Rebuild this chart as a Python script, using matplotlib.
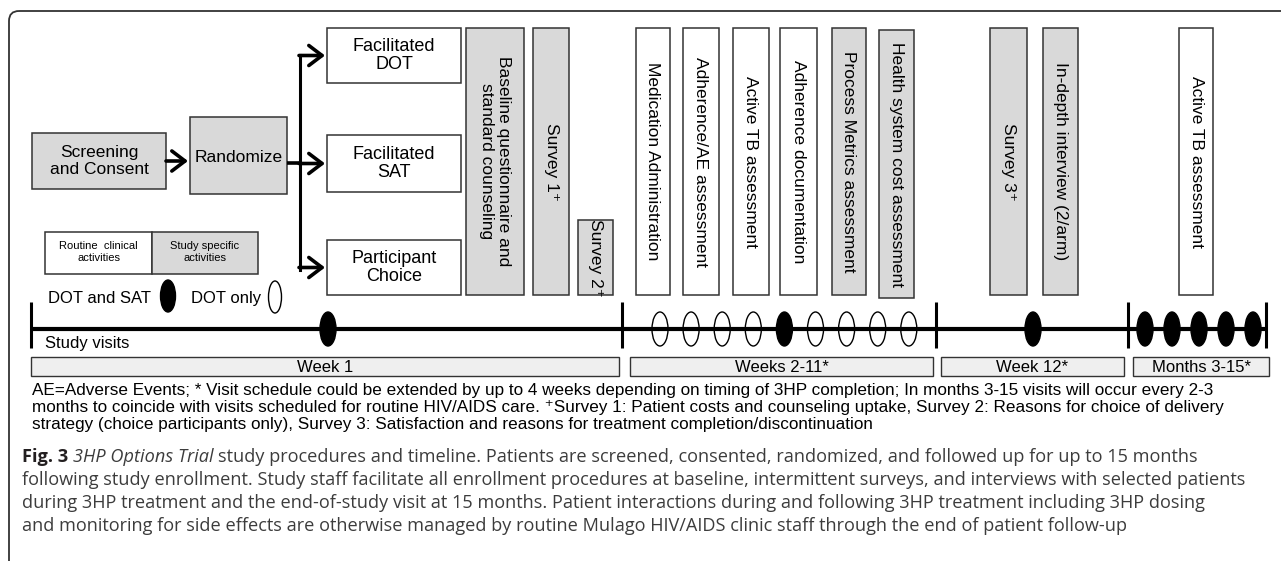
import matplotlib.pyplot as plt
from matplotlib.patches import Rectangle, Ellipse, FancyBboxPatch

plt.rcParams['font.family'] = ['Liberation Sans', 'DejaVu Sans']

# ---------------- content ----------------
arm_labels = ["Facilitated\nDOT", "Facilitated\nSAT", "Participant\nChoice"]

activity_labels = [
    "Baseline questionnaire and\nstandard counseling",
    "Survey 1\u207a",
    "Survey 2\u207a",
    "Medication Administration",
    "Adherence/AE assessment",
    "Active TB assessment",
    "Adherence documentation",
    "Process Metrics assessment",
    "Health system cost assessment",
    "Survey 3\u207a",
    "In-depth interview (2/arm)",
    "Active TB assessment",
]
# True = study specific activity (grey), False = routine clinical (white)
activity_study = [True, True, True, False, False, False, False,
                  True, True, True, True, False]

period_labels = ["Week 1", "Weeks 2-11*", "Week 12*", "Months 3-15*"]
# visit type per visit in each period: "both" = DOT and SAT, "dot" = DOT only
period_visits = [
    ["both"],
    ["dot", "dot", "dot", "dot", "both", "dot", "dot", "dot", "dot"],
    ["both"],
    ["both", "both", "both", "both", "both"],
]

footnote = [
    "AE=Adverse Events; * Visit schedule could be extended by up to 4 weeks depending on timing of 3HP completion; In months 3-15 visits will occur every 2-3",
    "months to coincide with visits scheduled for routine HIV/AIDS care. \u207aSurvey 1: Patient costs and counseling uptake, Survey 2: Reasons for choice of delivery",
    "strategy (choice participants only), Survey 3: Satisfaction and reasons for treatment completion/discontinuation",
]
caption_first = [
    ("Fig. 3", "bold", "normal"),
    ("3HP Options Trial", "normal", "italic"),
    ("study procedures and timeline. Patients are screened, consented, randomized, and followed up for up to 15 months", "normal", "normal"),
]
caption_rest = [
    "following study enrollment. Study staff facilitate all enrollment procedures at baseline, intermittent surveys, and interviews with selected patients",
    "during 3HP treatment and the end-of-study visit at 15 months. Patient interactions during and following 3HP treatment including 3HP dosing",
    "and monitoring for side effects are otherwise managed by routine Mulago HIV/AIDS clinic staff through the end of patient follow-up",
]

# ---------------- layout (pixels) ----------------
W, H = 1281, 561
GREY = '#d9d9d9'
EDGE = '#333333'
arm_x = (327, 461)
arm_y = [(28, 83), (135, 192), (240, 295)]
act_x = [(466, 524), (533, 569), (578, 613), (636, 670), (683, 719), (733, 769),
         (780, 817), (832, 866), (879, 914), (990, 1027), (1043, 1078), (1179, 1213)]
act_y = [(28, 295)] * 12
act_y[2] = (220, 295)
act_y[8] = (30, 298)
line_y = 329
period_edges = [31, 622, 936, 1128, 1266]
period_box_x = [(31, 619), (630, 933), (941, 1124), (1133, 1269)]
visit_start = [328, 660, 1033, 1145]
visit_step = [0, 31.1, 0, 27]

fig = plt.figure(figsize=(W / 100, H / 100), dpi=100)
ax = fig.add_axes([0, 0, 1, 1])
ax.set_xlim(0, W)
ax.set_ylim(H, 0)
ax.axis('off')

# outer panel frame (only top and left visible)
ax.add_patch(FancyBboxPatch((9, 11), 1500, 800, boxstyle='round,pad=0,rounding_size=10',
                            fc='none', ec=EDGE, lw=1.3))


def box(x0, x1, y0, y1, fc, lw=1.1):
    ax.add_patch(Rectangle((x0, y0), x1 - x0, y1 - y0, fc=fc, ec=EDGE, lw=lw))


# screening -> randomize -> arms
box(32, 166, 133, 189, GREY)
ax.text(99, 161, "Screening\nand Consent", ha='center', va='center', fontsize=12.5, linespacing=1.2)
box(190, 287, 117, 194, GREY)
ax.text(238.5, 157, "Randomize", ha='center', va='center', fontsize=12.5)

arrow = dict(arrowstyle='->,head_length=0.5,head_width=0.38', lw=2.6, color='black',
             shrinkA=0, shrinkB=0, mutation_scale=19)
ax.annotate('', xy=(188, 161), xytext=(166, 161), arrowprops=arrow)
ax.plot([287, 300], [163, 163], color='black', lw=2.6, solid_capstyle='butt')
ax.plot([300, 300], [55, 270], color='black', lw=2.2, solid_capstyle='projecting')
for (y0, y1) in arm_y:
    ax.annotate('', xy=(325, (y0 + y1) / 2), xytext=(299, (y0 + y1) / 2), arrowprops=arrow)

for label, (y0, y1) in zip(arm_labels, arm_y):
    box(arm_x[0], arm_x[1], y0, y1, 'white')
    ax.text(sum(arm_x) / 2, (y0 + y1) / 2, label, ha='center', va='center',
            fontsize=13, linespacing=1.15)

# vertical activity boxes
for label, study, (x0, x1), (y0, y1) in zip(activity_labels, activity_study, act_x, act_y):
    box(x0, x1, y0, y1, GREY if study else 'white')
    ax.text((x0 + x1) / 2, (y0 + y1) / 2, label, rotation=270, rotation_mode='anchor',
            ha='center', va='center', multialignment='center', fontsize=12.5, linespacing=1.12)

# legend
box(45, 152, 232, 274, 'white')
box(152, 258, 232, 274, GREY)
ax.text(98.5, 252, "Routine  clinical\nactivities", ha='center', va='center', fontsize=8, linespacing=1.15)
ax.text(205, 252, "Study specific\nactivities", ha='center', va='center', fontsize=8, linespacing=1.15)
ax.text(48, 298, "DOT and SAT", ha='left', va='center', fontsize=12)
ax.add_patch(Ellipse((168, 296), 15, 32, fc='black', ec='black', lw=1))
ax.text(191, 298, "DOT only", ha='left', va='center', fontsize=12)
ax.add_patch(Ellipse((275, 297), 13, 32, fc='white', ec='black', lw=1))

# timeline (line passes through the open visit markers)
ax.plot([period_edges[0], period_edges[-1]], [line_y, line_y], color='black', lw=3,
        solid_capstyle='butt', zorder=4)
for xe in period_edges:
    ax.plot([xe, xe], [302, 348], color='black', lw=2.2, solid_capstyle='butt', zorder=4)
ax.text(45, 343, "Study visits", ha='left', va='center', fontsize=12)

for visits, x0, step in zip(period_visits, visit_start, visit_step):
    for i, kind in enumerate(visits):
        fc = 'black' if kind == 'both' else 'white'
        ax.add_patch(Ellipse((x0 + i * step, line_y), 16, 34, fc=fc, ec='black', lw=1, zorder=3))

for label, (x0, x1) in zip(period_labels, period_box_x):
    box(x0, x1, 357, 376, '#efefef', lw=1.0)
    ax.text((x0 + x1) / 2, 367, label, ha='center', va='center', fontsize=12)

# footnote, sized so its lines span about the same width as the reference
renderer = fig.canvas.get_renderer()
foot = [ax.text(32, 390 + 17 * i, s, ha='left', va='center', fontsize=11, color='black')
        for i, s in enumerate(footnote)]
w = foot[0].get_window_extent(renderer).width
for t in foot:
    t.set_fontsize(11 * 1178 / w)

# caption
cap_font = ['Open Sans', 'DejaVu Sans']
probe = ax.text(0, 0, caption_rest[0], fontsize=12, family=cap_font)
cap_size = 12 * 1222 / probe.get_window_extent(renderer).width
probe.remove()


def width_of(s, **kw):
    t = ax.text(0, 0, s, fontsize=cap_size, family=cap_font, **kw)
    w = t.get_window_extent(renderer).width
    t.remove()
    return w


space = width_of("a a") - width_of("aa")
x = 22
for s, weight, style in caption_first:
    color = '#231f20' if weight == 'bold' else '#3c3c3c'
    ax.text(x, 457, s, ha='left', va='center', fontsize=cap_size, family=cap_font,
            fontweight=weight, fontstyle=style, color=color)
    x += width_of(s, fontweight=weight, fontstyle=style) + space
for i, s in enumerate(caption_rest):
    ax.text(22, 480 + 23 * i, s, ha='left', va='center', fontsize=cap_size,
            family=cap_font, color='#3c3c3c')

fig.savefig('out.png', dpi=100)
